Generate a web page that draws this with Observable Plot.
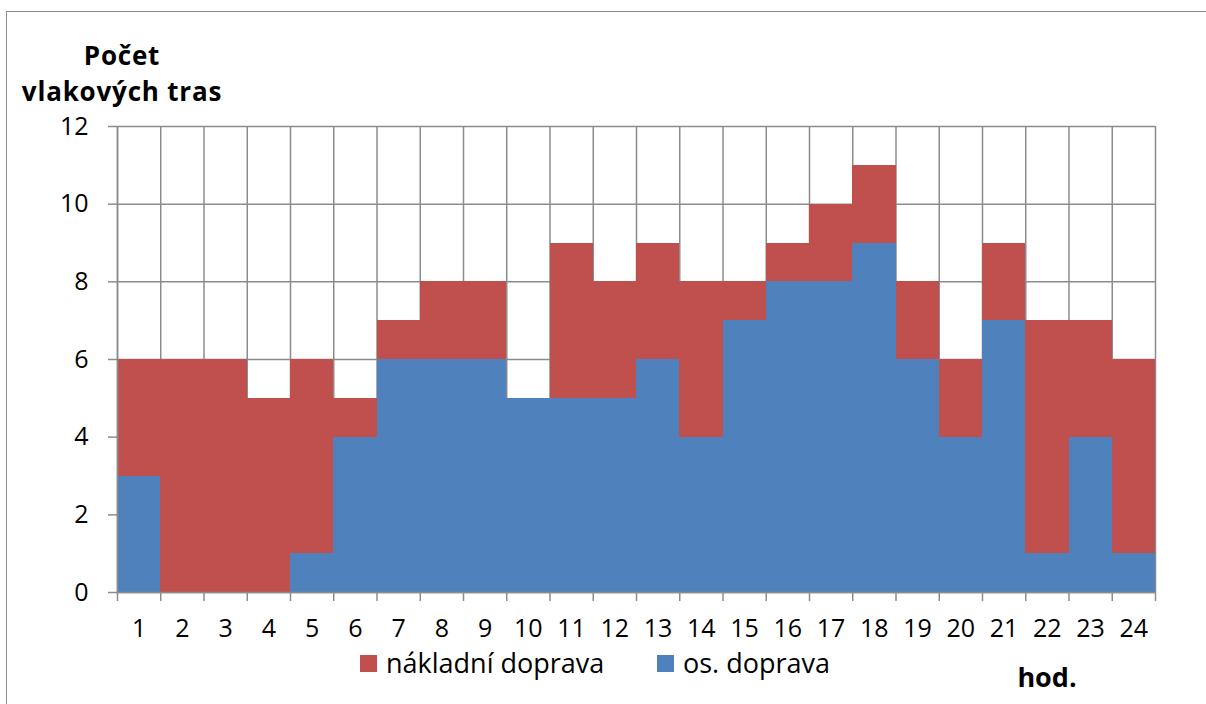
<!DOCTYPE html>
<html>
<head>
<meta charset="utf-8">
<script src="https://cdn.jsdelivr.net/npm/d3@7"></script>
<script src="https://cdn.jsdelivr.net/npm/@observablehq/plot@0.6"></script>
<style>
  html, body { margin: 0; padding: 0; background: #fff; overflow: hidden; }
  #wrap { position: relative; width: 1206px; height: 704px; overflow: hidden; font-family: "Open Sans", sans-serif; color: #000; }
  #frame { position: absolute; left: 6px; top: 11px; width: 1240px; height: 760px; border: 1.5px solid #8c8c8c; box-sizing: border-box; pointer-events: none; }
  #chart { position: absolute; left: 0; top: 0; }
  .ylabel { position: absolute; left: 0; width: 244px; text-align: center; font-weight: bold; font-size: 26px; line-height: 36px; letter-spacing: 0.8px; white-space: nowrap; }
  .xlabel { position: absolute; left: 997px; top: 661px; width: 100px; text-align: center; font-weight: bold; font-size: 27px; line-height: 32px; }
  .legend { position: absolute; top: 647px; left: 0; height: 32px; font-size: 27px; line-height: 32px; }
  .legend .sw { position: absolute; top: 8px; width: 17px; height: 17px; }
  .legend .lb { position: absolute; top: 0; white-space: nowrap; }
</style>
</head>
<body>
<div id="wrap">
  <div id="chart"></div>
  <div class="ylabel" style="top: 37px;">Počet</div>
  <div class="ylabel" style="top: 73px;">vlakových tras</div>
  <div class="xlabel">hod.</div>
  <div class="legend" id="legend"></div>
  <div id="frame"></div>
</div>
<script>
// Hours of the day (category labels on the x axis)
const hours = [1, 2, 3, 4, 5, 6, 7, 8, 9, 10, 11, 12, 13, 14, 15, 16, 17, 18, 19, 20, 21, 22, 23, 24];

// Train paths per hour, by kind of traffic
const seriesNames = ["nákladní doprava", "os. doprava"];
const seriesColors = ["#C0504D", "#4F81BD"];
const passenger = [3, 0, 0, 0, 1, 4, 6, 6, 6, 5, 5, 5, 6, 4, 7, 8, 8, 9, 6, 4, 7, 1, 4, 1];
const freight   = [3, 6, 6, 5, 5, 1, 1, 2, 2, 0, 4, 3, 3, 4, 1, 1, 2, 2, 2, 2, 2, 6, 3, 5];

// Value axis ticks
const yTicks = [0, 2, 4, 6, 8, 10, 12];

// Long table: passenger first so it sits at the bottom of each stack
const rows = hours.flatMap((h, i) => [
  {hour: h, type: seriesNames[1], value: passenger[i]},
  {hour: h, type: seriesNames[0], value: freight[i]}
]);

// Category boundaries (for the grid and the tick marks)
const edges = [hours[0] - 0.5, ...hours.map(h => h + 0.5)];

const gray = "#8c8c8c";

const chart = Plot.plot({
  width: 1206,
  height: 704,
  marginLeft: 117,
  marginRight: 51,
  marginTop: 126,
  marginBottom: 112,
  style: {fontFamily: "'Open Sans', sans-serif", fontSize: "25px", color: "#000", background: "transparent"},
  x: {domain: [edges[0], edges[edges.length - 1]], axis: null},
  y: {domain: [0, 12], axis: null},
  color: {domain: seriesNames, range: seriesColors},
  marks: [
    Plot.gridX({ticks: edges, stroke: gray, strokeOpacity: 1, strokeWidth: 1.5}),
    Plot.gridY({ticks: yTicks, stroke: gray, strokeOpacity: 1, strokeWidth: 1.5}),
    Plot.rectY(rows, {
      x1: d => d.hour - 0.5,
      x2: d => d.hour + 0.5,
      y: "value",
      fill: "type",
      shapeRendering: "crispEdges"
    }),
    Plot.ruleY([0], {stroke: gray, strokeWidth: 1.5}),
    Plot.ruleX([edges[0]], {stroke: gray, strokeWidth: 1.5}),
    // y ticks + labels
    Plot.axisY({ticks: yTicks, tickSize: 9, tickFormat: () => "", stroke: gray, strokeWidth: 1.5, label: null}),
    Plot.axisY({ticks: yTicks, tickSize: 0, tickPadding: 29, fontSize: 25, label: null}),
    // x tick marks on the boundaries, labels at the centres
    Plot.axisX({ticks: edges, tickSize: 9, tickFormat: () => "", stroke: gray, strokeWidth: 1.5, label: null}),
    Plot.axisX({ticks: hours, tickSize: 0, tickPadding: 27, fontSize: 25, label: null})
  ]
});
document.getElementById("chart").appendChild(chart);

// Legend
const legend = document.getElementById("legend");
const legendPos = [{sw: 360, lb: 386}, {sw: 657, lb: 683}];
seriesNames.forEach((name, i) => {
  const sw = document.createElement("div");
  sw.className = "sw";
  sw.style.left = legendPos[i].sw + "px";
  sw.style.background = seriesColors[i];
  const lb = document.createElement("div");
  lb.className = "lb";
  lb.style.left = legendPos[i].lb + "px";
  lb.textContent = name;
  legend.appendChild(sw);
  legend.appendChild(lb);
});
</script>
</body>
</html>
